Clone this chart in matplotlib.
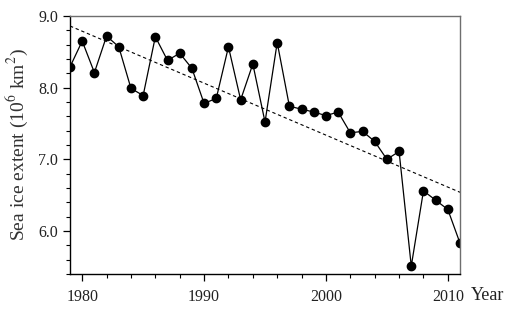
import matplotlib
matplotlib.use("Agg")
import matplotlib.pyplot as plt
from matplotlib.ticker import MultipleLocator

plt.rcParams["font.family"] = ["Liberation Serif", "DejaVu Serif"]
plt.rcParams["mathtext.fontset"] = "stix"

years = list(range(1979, 2012))
extent = [8.29, 8.65, 8.21, 8.72, 8.57, 7.99, 7.89, 8.71, 8.38, 8.48,
          8.27, 7.78, 7.85, 8.57, 7.83, 8.33, 7.52, 8.63, 7.74, 7.70,
          7.66, 7.61, 7.66, 7.37, 7.39, 7.25, 7.00, 7.11, 5.51, 6.56,
          6.43, 6.30, 5.83]
trend_years = [1979, 2011]
trend_values = [8.86, 6.54]

fig = plt.figure(figsize=(5.1, 3.11), dpi=100)
ax = fig.add_axes([0.1373, 0.119, 0.7647, 0.8296])

ax.plot(years, extent, "-", color="black", linewidth=0.9,
        marker="o", markersize=6, markerfacecolor="black", markeredgecolor="black")
ax.plot(trend_years, trend_values, "--", color="black", linewidth=0.8, dashes=(3, 2.5))

ax.set_xlim(1979, 2011)
ax.set_ylim(5.4, 9.0)
ax.xaxis.set_major_locator(MultipleLocator(10))
ax.xaxis.set_minor_locator(MultipleLocator(2))
ax.yaxis.set_major_locator(MultipleLocator(1.0))
ax.yaxis.set_minor_locator(MultipleLocator(0.2))
ax.yaxis.set_major_formatter(plt.FormatStrFormatter("%.1f"))

ax.tick_params(which="major", direction="out", length=5, width=0.9, labelsize=11.5,
               labelcolor="#222222", top=False, right=False)
ax.tick_params(which="minor", direction="out", length=3, width=0.8,
               top=False, right=False)
ax.tick_params(axis="x", pad=6)

for side in ["left", "bottom"]:
    ax.spines[side].set_color("black")
    ax.spines[side].set_linewidth(1.0)
for side in ["top", "right"]:
    ax.spines[side].set_color("#6e6e6e")
    ax.spines[side].set_linewidth(1.0)

ax.set_ylabel("Sea ice extent (10$^6$ km$^2$)", fontsize=14, color="#333333",
              labelpad=6)
ax.text(488 / 510, 1 - 296 / 311, "Year", transform=fig.transFigure,
        fontsize=13, ha="center", va="center", color="#222222")

fig.savefig("out.png", dpi=100)
